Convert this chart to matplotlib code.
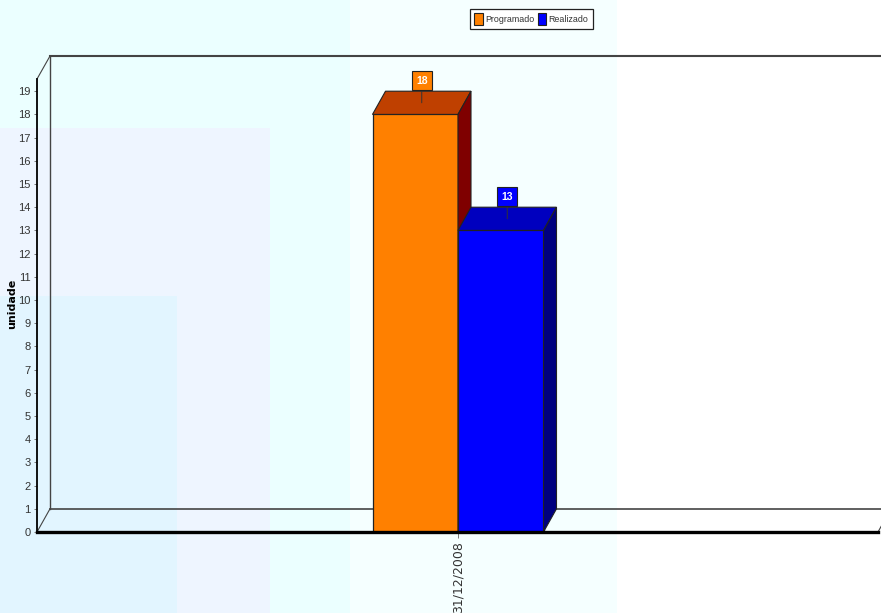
import matplotlib
matplotlib.use("Agg")
import matplotlib.pyplot as plt
from matplotlib.patches import Polygon, Rectangle

# DATOS
categorias = ["31/12/2008"]
programado = [18]
realizado = [13]
ticks_y = list(range(0, 20))

W, H = 881, 613
# escala: y0 = 532 px, 23.2 px por unidad; barra = 85.5 px
dx = 13 / 85.5
dy = 1.0

FUENTE = ["Liberation Sans", "DejaVu Sans"]

fig = plt.figure(figsize=(W / 100, H / 100), dpi=100, facecolor="white")


def fondo(x0, y0, x1, y1, color):
    fig.patches.append(Rectangle((x0 / W, 1 - y1 / H), (x1 - x0) / W, (y1 - y0) / H,
                                 transform=fig.transFigure, facecolor=color,
                                 edgecolor="none", zorder=-10))


# bloques de fondo
fondo(0, 0, 350, H, "#EBFFFF")
fondo(350, 0, 617, H, "#F5FFFF")
fondo(0, 128, 270, H, "#EEF5FF")
fondo(0, 296, 177, H, "#E2F5FF")

ax = fig.add_axes([37 / W, 1 - 532 / H, (878 - 37) / W, (532 - 79) / H])
ax.patch.set_alpha(0)
ax.set_xlim(-421 / 85.5, 420 / 85.5)
ax.set_ylim(0, 453 / 23.2)

xmin, xmax = ax.get_xlim()
ymax = ax.get_ylim()[1]

# paredes 3D
gris = "#444444"
ax.plot([xmin + dx, xmin + dx], [dy, 476 / 23.2], color=gris, lw=1, clip_on=False, zorder=1)
ax.plot([xmin + dx, xmax + dx], [476 / 23.2, 476 / 23.2], color=gris, lw=1.5, clip_on=False, zorder=1)
ax.plot([xmin + dx, xmax + dx], [dy, dy], color=gris, lw=1.2, clip_on=False, zorder=1)
ax.plot([xmin, xmin + dx], [ymax, 476 / 23.2], color=gris, lw=0.8, clip_on=False, zorder=1)
ax.plot([xmin, xmin + dx], [0, dy], color=gris, lw=0.8, clip_on=False, zorder=1)
ax.plot([xmax, xmax + dx], [0, dy], color=gris, lw=0.8, clip_on=False, zorder=1)


def barra(x, valor, frente, arriba, lado, z):
    ax.bar(x, valor, width=1, align="edge", color=frente, edgecolor="#222222", lw=0.9, zorder=z)
    ax.add_patch(Polygon([(x, valor), (x + 1, valor), (x + 1 + dx, valor + dy), (x + dx, valor + dy)],
                         facecolor=arriba, edgecolor="#222222", lw=0.8, zorder=z))
    ax.add_patch(Polygon([(x + 1, 0), (x + 1 + dx, dy), (x + 1 + dx, valor + dy), (x + 1, valor)],
                         facecolor=lado, edgecolor="#222222", lw=0.8, zorder=z))
    ax.annotate(str(valor), xy=(x + 0.5 + dx / 2, valor + 0.5), xytext=(0, 16),
                textcoords="offset points", ha="center", va="center", color="white",
                fontsize=7.5, fontweight="bold", family=FUENTE, zorder=z + 1,
                bbox=dict(boxstyle="square,pad=0.4", facecolor=frente, edgecolor="#222222", lw=0.8),
                arrowprops=dict(arrowstyle="-", color="#333333", lw=0.7, shrinkA=0, shrinkB=0))


barra(-1, programado[0], "#FF8000", "#BF4000", "#7F0000", 3)
barra(0, realizado[0], "#0000FF", "#0000BF", "#00007F", 4)

# ejes
for lado in ["top", "right"]:
    ax.spines[lado].set_visible(False)
ax.spines["left"].set_linewidth(1.3)
ax.spines["bottom"].set_linewidth(2.4)
ax.spines["bottom"].set_zorder(6)
ax.set_yticks(ticks_y)
ax.set_yticklabels([str(t) for t in ticks_y], family=FUENTE, fontsize=8, color="#333333")
ax.tick_params(axis="y", length=2.5, width=0.7, color="#777777", pad=2)
ax.set_xticks([0])
ax.set_xticklabels(categorias, rotation=90, fontsize=9, color="#333333")
ax.tick_params(axis="x", length=4.5, width=0.7, color="#777777", pad=2)
ax.set_ylabel("unidade", fontsize=8, fontweight="bold", labelpad=0)
ax.yaxis.set_label_coords((17 - 37) / 841, 0.503, transform=ax.transAxes)

# leyenda
h1 = Rectangle((0, 0), 1, 1, facecolor="#FF8000", edgecolor="#222222", lw=0.8)
h2 = Rectangle((0, 0), 1, 1, facecolor="#0000FF", edgecolor="#222222", lw=0.8)
leg = fig.legend([h1, h2], ["Programado", "Realizado"], ncol=2, loc="center",
                 bbox_to_anchor=(531.5 / W, 1 - 19 / H), fancybox=False, framealpha=1,
                 edgecolor="#222222", facecolor="white",
                 prop={"family": FUENTE, "size": 6.4},
                 handlelength=1.0, handleheight=1.7, handletextpad=0.25, columnspacing=0.3,
                 borderpad=0.5, borderaxespad=0)
leg.get_frame().set_linewidth(0.9)
for t in leg.get_texts():
    t.set_color("#333333")

fig.savefig("out.png", dpi=100, facecolor=fig.get_facecolor())
